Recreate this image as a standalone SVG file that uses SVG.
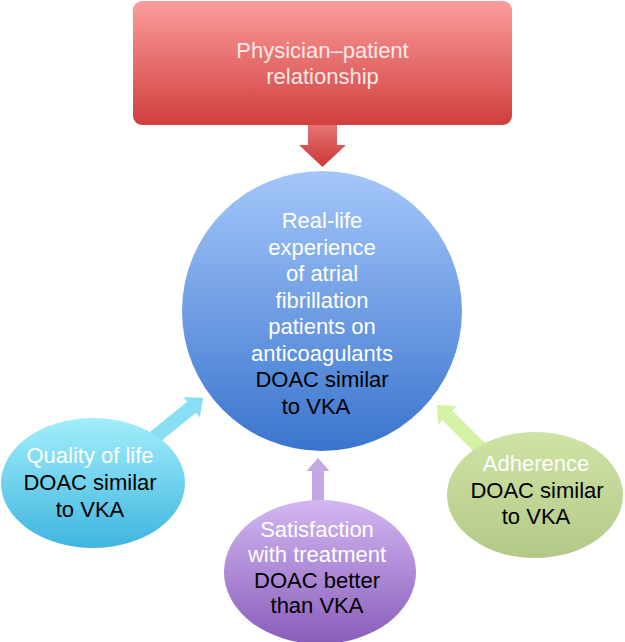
<svg xmlns="http://www.w3.org/2000/svg" width="625" height="642" viewBox="0 0 625 642">
<defs>
<linearGradient id="gRed" x1="0" y1="0" x2="0" y2="1"><stop offset="0" stop-color="#fc9c9c"/><stop offset="1" stop-color="#cf3f3d"/></linearGradient>
<linearGradient id="gRedArrow" x1="0" y1="0" x2="0" y2="1"><stop offset="0" stop-color="#e57373"/><stop offset="1" stop-color="#cc3636"/></linearGradient>
<linearGradient id="gBlue" x1="0" y1="0" x2="0" y2="1"><stop offset="0" stop-color="#a4c7fa"/><stop offset="1" stop-color="#3a74cd"/></linearGradient>
<linearGradient id="gCyan" x1="0" y1="0" x2="0" y2="1"><stop offset="0" stop-color="#a2eefb"/><stop offset="1" stop-color="#3fb5df"/></linearGradient>
<linearGradient id="gGreen" x1="0" y1="0" x2="0" y2="1"><stop offset="0" stop-color="#cfe3a6"/><stop offset="1" stop-color="#b4c886"/></linearGradient>
<linearGradient id="gPurple" x1="0" y1="0" x2="0" y2="1"><stop offset="0" stop-color="#d2b8f2"/><stop offset="1" stop-color="#8a5cba"/></linearGradient>
</defs>
<style>
text{font-family:"Liberation Sans",Arial,sans-serif;font-size:22px;text-anchor:middle}
.w{fill:#ffffff}
.tw{fill:#fde9e9}
.k{fill:#000000}
</style>
<g id="connectors">
<polygon id="arrow-top" points="308,125 337,125 337,145 346,145 322.5,167 299,145 308,145" fill="url(#gRedArrow)"/>
<polygon id="arrow-quality" transform="translate(145,445) rotate(-39)" points="0,-7 60,-7 60,-13 75,0 60,13 60,7 0,7" fill="#88def2"/>
<polygon id="arrow-adherence" transform="translate(482,450) rotate(-135)" points="0,-7 49,-7 49,-13 64,0 49,13 49,7 0,7" fill="#d3f2a6"/>
<polygon id="arrow-satisfaction" transform="translate(318,510) rotate(-90)" points="0,-6 39,-6 39,-11.5 52,0 39,11.5 39,6 0,6" fill="#c4a8e4"/>
</g>
<g id="node-physician">
<rect x="133" y="1" width="379" height="124" rx="9" fill="url(#gRed)"/>
<text class="tw" x="322.5" y="58">Physician–patient</text>
<text class="tw" x="322.5" y="84">relationship</text>
</g>
<g id="node-center">
<circle cx="322" cy="311" r="140" fill="url(#gBlue)"/>
<text class="w" x="322" y="228">Real-life</text>
<text class="w" x="322" y="254.5">experience</text>
<text class="w" x="322" y="281">of atrial</text>
<text class="w" x="322" y="307.5">fibrillation</text>
<text class="w" x="322" y="334">patients on</text>
<text class="w" x="322" y="360.5">anticoagulants</text>
<text class="k" x="322" y="387">DOAC similar</text>
<text class="k" x="316" y="413.5">to VKA</text>
</g>
<g id="node-quality">
<ellipse cx="93" cy="483" rx="92" ry="65" fill="url(#gCyan)"/>
<text class="w" x="90" y="463">Quality of life</text>
<text class="k" x="90" y="490">DOAC similar</text>
<text class="k" x="90" y="517">to VKA</text>
</g>
<g id="node-adherence">
<ellipse cx="535" cy="495" rx="88" ry="63" fill="url(#gGreen)"/>
<text class="w" x="536" y="471">Adherence</text>
<text class="k" x="537" y="498">DOAC similar</text>
<text class="k" x="536" y="524">to VKA</text>
</g>
<g id="node-satisfaction">
<ellipse cx="320" cy="572" rx="96" ry="72" fill="url(#gPurple)"/>
<text class="w" x="317" y="537">Satisfaction</text>
<text class="w" x="317" y="562">with treatment</text>
<text class="k" x="317" y="588">DOAC better</text>
<text class="k" x="317" y="613">than VKA</text>
</g>
</svg>
